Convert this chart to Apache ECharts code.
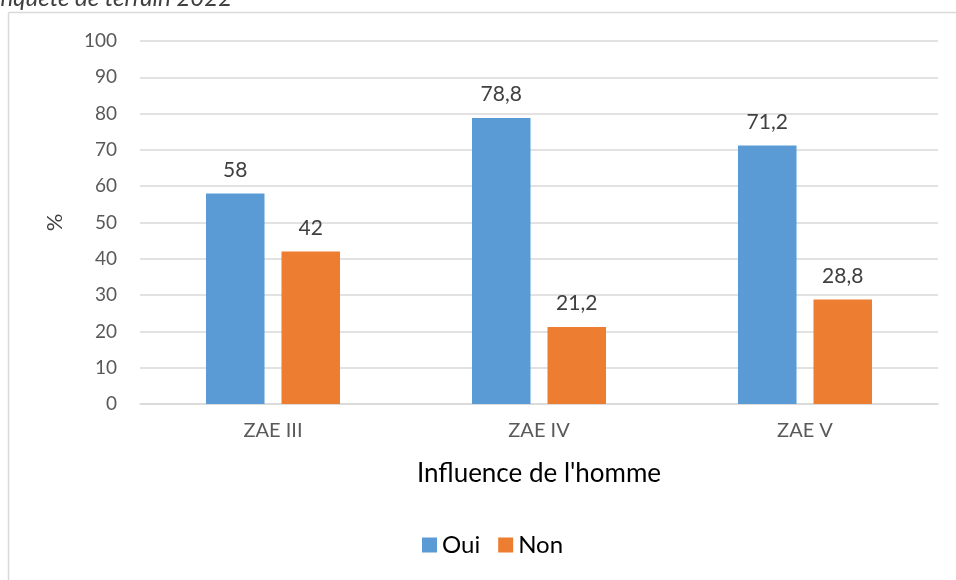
<!DOCTYPE html>
<html><head><meta charset="utf-8">
<script src="https://cdn.jsdelivr.net/npm/echarts@6/dist/echarts.min.js"></script>
<style>html,body{margin:0;padding:0;background:#fff}#c{width:956px;height:580px}</style>
</head><body><div id="c"></div>
<script>
const categories = ['ZAE III', 'ZAE IV', 'ZAE V'];
const ouiValues = [58, 78.8, 71.2];
const nonValues = [42, 21.2, 28.8];
const seriesNames = ['Oui', 'Non'];
const xAxisTitle = "Influence de l'homme";
const yAxisTitle = '%';
const sourceText = 'Enquête de terrain 2022';

const FONT = 'Lato';
const fmt = v => String(v.value).replace('.', ',');
const chart = echarts.init(document.getElementById('c'), null, {renderer: 'canvas'});
chart.setOption({
  animation: false,
  textStyle: {fontFamily: FONT},
  graphic: [
    {type: 'line', shape: {x1: 8.5, y1: 12.5, x2: 956, y2: 12.5}, style: {stroke: '#D9D9D9', lineWidth: 1.5}, silent: true},
    {type: 'line', shape: {x1: 8.5, y1: 12.5, x2: 8.5, y2: 580}, style: {stroke: '#D9D9D9', lineWidth: 1.5}, silent: true},
    {type: 'text', left: -12, top: -14, style: {text: sourceText, font: 'italic 24px ' + FONT, fill: '#404040'}}
  ],
  grid: {left: 140, right: 18, top: 41, bottom: 176, containLabel: false},
  legend: {
    data: seriesNames, bottom: 18, left: 417, itemWidth: 15, itemHeight: 15, itemGap: 18,
    icon: 'rect', textStyle: {fontSize: 24, color: '#000', fontFamily: FONT}
  },
  xAxis: {
    type: 'category', data: categories,
    name: xAxisTitle, nameLocation: 'middle', nameGap: 57,
    nameTextStyle: {fontSize: 26, color: '#000', fontFamily: FONT},
    axisLine: {lineStyle: {color: '#D9D9D9', width: 1.5}},
    axisTick: {show: false},
    axisLabel: {fontSize: 20, color: '#595959', margin: 17}
  },
  yAxis: {
    type: 'value', min: 0, max: 100, interval: 10,
    name: yAxisTitle, nameLocation: 'middle', nameGap: 74, nameRotate: 90,
    nameTextStyle: {fontSize: 22, color: '#404040', fontFamily: FONT},
    axisLine: {show: false}, axisTick: {show: false},
    axisLabel: {fontSize: 19, color: '#595959', margin: 23},
    splitLine: {lineStyle: {color: '#D9D9D9', width: 1.5}}
  },
  series: [
    {name: seriesNames[0], type: 'bar', data: ouiValues, barWidth: '22%', barGap: '29%',
     itemStyle: {color: '#5B9BD5'},
     label: {show: true, position: 'top', distance: 13, fontSize: 21, color: '#404040', formatter: fmt}},
    {name: seriesNames[1], type: 'bar', data: nonValues, barWidth: '22%',
     itemStyle: {color: '#ED7D31'},
     label: {show: true, position: 'top', distance: 13, fontSize: 21, color: '#404040', formatter: fmt}}
  ]
});
</script></body></html>
